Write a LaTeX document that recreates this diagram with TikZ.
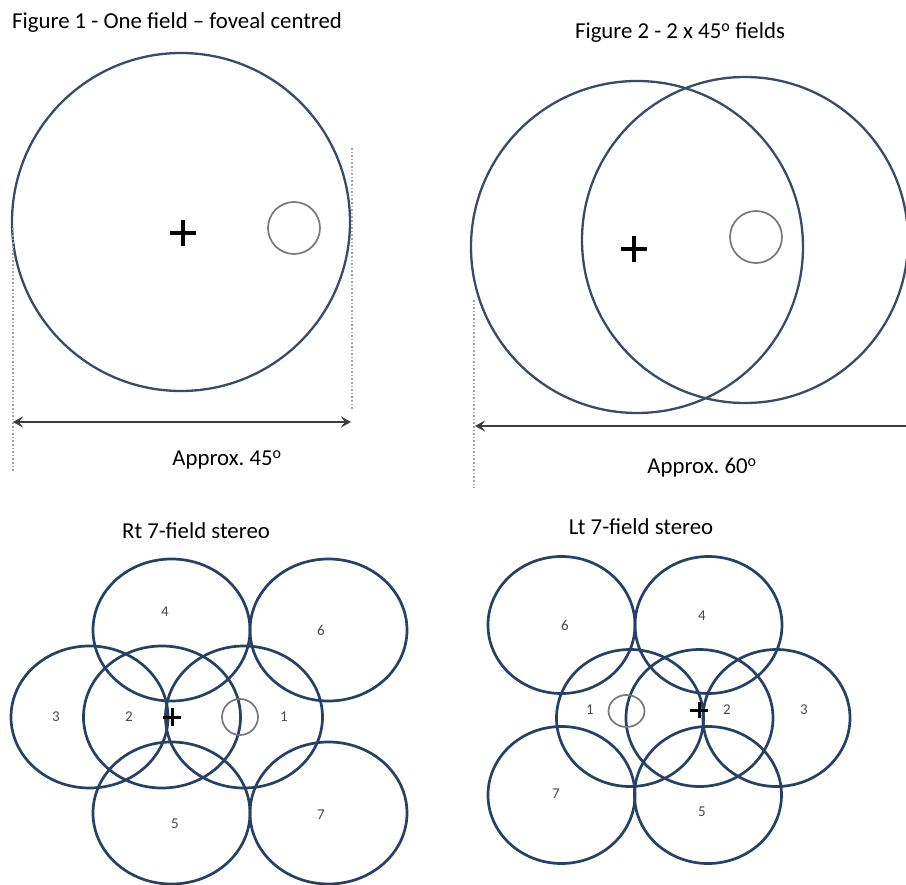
\documentclass[tikz,border=0pt]{standalone}
\usepackage{fontspec}
\setmainfont{Carlito}
\usetikzlibrary{shapes.geometric,arrows.meta,calc}
\definecolor{navy}{RGB}{38,64,102}
\definecolor{slate}{RGB}{58,76,100}
\definecolor{ringgray}{RGB}{120,120,120}
\definecolor{numgray}{RGB}{75,75,75}
\definecolor{dotgray}{RGB}{165,165,165}
\definecolor{arrowgray}{RGB}{60,60,60}
\begin{document}
\frenchspacing
\begin{tikzpicture}[x=1pt,y=-1pt,
  bigfield/.style={draw=slate,line width=2.3pt,circle,inner sep=0pt,outer sep=0pt},
  field/.style={draw=navy,line width=2.7pt,ellipse,inner sep=0pt,outer sep=0pt},
  fovea/.style={draw=ringgray,line width=1.7pt,circle,inner sep=0pt,outer sep=0pt},
  smallfovea/.style={draw=ringgray,line width=1.7pt,ellipse,inner sep=0pt,outer sep=0pt},
  crossmark/.style={line width=3.6pt,black},
  title/.style={font=\fontsize{22.8}{27}\selectfont,text=black,inner sep=0pt},
  num/.style={font=\fontsize{15}{17}\selectfont,text=numgray,inner sep=0pt},
  guide/.style={draw=dotgray,line width=1.6pt,dotted},
  dim/.style={draw=arrowgray,line width=1.9pt,>={Stealth[length=10pt,width=11pt,inset=4pt]}}
]
\useasboundingbox[fill=white] (0,0) rectangle (906,885);

% ---------- Figure 1 ----------
\node[title,anchor=base west] (t1) at (12,29) {Figure 1 - One field -- foveal centred};
\node[bigfield,minimum size=338pt] (f1) at (181,222) {};
\node[fovea,minimum size=52pt] (d1) at (294,228) {};
\coordinate (p1) at (183,233);
\draw[crossmark] ($(p1)+(-13,0)$) -- ($(p1)+(13,0)$) ($(p1)+(0,-13)$) -- ($(p1)+(0,13)$);
\coordinate (g1a) at (13,228);
\coordinate (g1b) at (13,472);
\coordinate (g1c) at (352,148);
\coordinate (g1d) at (352,410);
\draw[guide] (g1a) -- (g1b);
\draw[guide] (g1c) -- (g1d);
\coordinate (a1l) at (13,422);
\coordinate (a1r) at (351,422);
\draw[dim,<->] (a1l) -- (a1r);
\node[title,anchor=base] (l1) at (227,466) {Approx. 45\textsuperscript{o}};

% ---------- Figure 2 ----------
\node[title,anchor=base] (t2) at (680,39) {Figure 2 - 2 x 45\textsuperscript{o} fields};
\node[bigfield,minimum size=332pt] (f2a) at (637,247) {};
\node[bigfield,minimum size=326pt] (f2b) at (745,240) {};
\node[fovea,minimum size=52pt] (d2) at (756,237) {};
\coordinate (p2) at (634,249);
\draw[crossmark] ($(p2)+(-13,0)$) -- ($(p2)+(13,0)$) ($(p2)+(0,-13)$) -- ($(p2)+(0,13)$);
\coordinate (g2a) at (474,300);
\coordinate (g2b) at (474,488);
\draw[guide] (g2a) -- (g2b);
\coordinate (a2l) at (475,426);
\coordinate (a2r) at (910,426);
\draw[dim,<-] (a2l) -- (a2r);
\node[title,anchor=base] (l2) at (702,474) {Approx. 60\textsuperscript{o}};

% ---------- Rt 7-field stereo ----------
\node[title,anchor=base] (t3) at (196,538) {Rt 7-field stereo};
\begin{scope}[every node/.append style={minimum width=157pt,minimum height=142pt}]
\node[field] (r4) at (171.5,630) {};
\node[field] (r6) at (328.5,630) {};
\node[field] (r3) at (89.5,717) {};
\node[field] (r2) at (162,717) {};
\node[field] (r1) at (244,717) {};
\node[field] (r5) at (171.5,813) {};
\node[field] (r7) at (328.5,813) {};
\end{scope}
\node[num] (n4) at (165,612) {4};
\node[num] (n6) at (321,630) {6};
\node[num] (n3) at (56,717) {3};
\node[num] (n2) at (129,717) {2};
\node[num] (n1) at (284,717) {1};
\node[num] (n5) at (175,824) {5};
\node[num] (n7) at (321,815) {7};
\node[fovea,minimum size=36pt] (d3) at (240,717) {};
\coordinate (p3) at (172,717);
\draw[crossmark,line width=3pt] ($(p3)+(-9,0)$) -- ($(p3)+(9,0)$) ($(p3)+(0,-9)$) -- ($(p3)+(0,9)$);

% ---------- Lt 7-field stereo ----------
\node[title,anchor=base] (t4) at (641,535) {Lt 7-field stereo};
\begin{scope}[every node/.append style={minimum width=147pt,minimum height=137pt}]
\node[field] (q6) at (561.5,625) {};
\node[field] (q4) at (708.5,625) {};
\node[field] (q1) at (630,718) {};
\node[field] (q2) at (699.5,718) {};
\node[field] (q3) at (776.5,718) {};
\node[field] (q7) at (561.5,795) {};
\node[field] (q5) at (708,795) {};
\end{scope}
\node[num] (m6) at (565,625) {6};
\node[num] (m4) at (702,616) {4};
\node[num] (m1) at (590,710) {1};
\node[num] (m2) at (727,710) {2};
\node[num] (m3) at (804,710) {3};
\node[num] (m7) at (556,794) {7};
\node[num] (m5) at (702,812) {5};
\node[smallfovea,minimum width=36pt,minimum height=32pt] (d4) at (626.5,711) {};
\coordinate (p4) at (699,710);
\draw[crossmark,line width=3pt] ($(p4)+(-9,0)$) -- ($(p4)+(9,0)$) ($(p4)+(0,-8)$) -- ($(p4)+(0,8)$);
\end{tikzpicture}
\end{document}
